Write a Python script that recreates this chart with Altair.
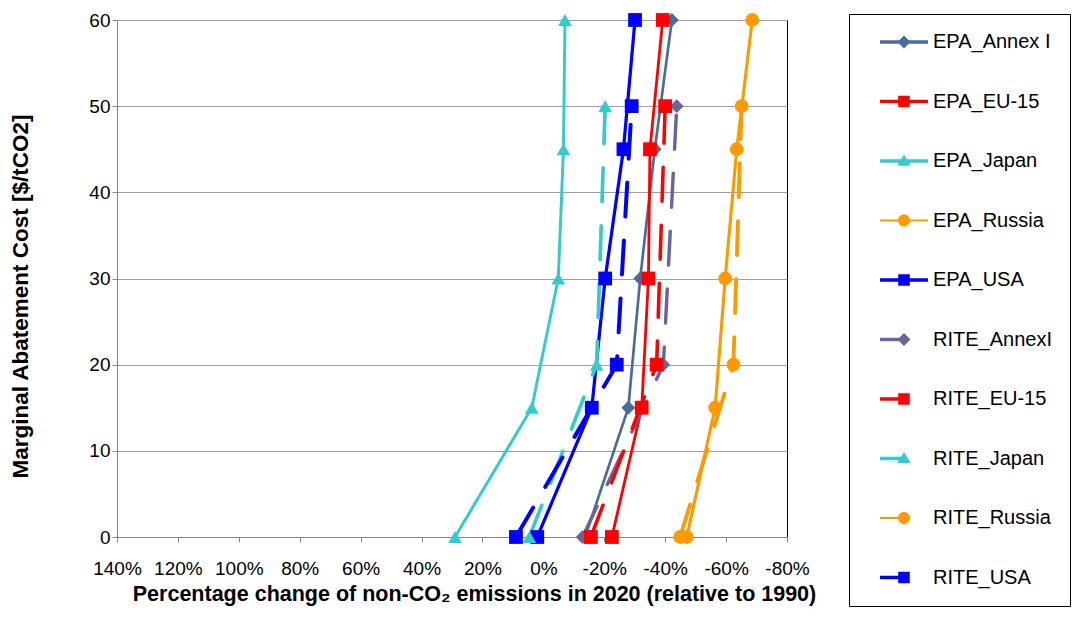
import altair as alt
import pandas as pd

# ---------------- data ----------------
series = ["EPA_Annex I", "EPA_EU-15", "EPA_Japan", "EPA_Russia", "EPA_USA",
          "RITE_AnnexI", "RITE_EU-15", "RITE_Japan", "RITE_Russia", "RITE_USA"]

epa_cost = [0, 15, 30, 45, 60]
rite_cost = [0, 20, 50]

epa_annex1 = [-13.7, -27.9, -31.8, -36.6, -42.2]
epa_eu15 = [-22.5, -32.3, -34.5, -35.0, -39.2]
epa_japan = [29.0, 3.8, -4.9, -6.6, -7.1]
epa_russia = [-47.1, -56.4, -59.7, -63.5, -68.6]
epa_usa = [2.0, -15.9, -20.3, -26.3, -30.1]

rite_annex1 = [-12.9, -39.4, -43.8]
rite_eu15 = [-15.6, -37.2, -40.0]
rite_japan = [4.6, -17.5, -20.3]
rite_russia = [-44.9, -62.4, -65.1]
rite_usa = [9.0, -24.1, -29.0]

x_ticks = [140, 120, 100, 80, 60, 40, 20, 0, -20, -40, -60, -80]
y_ticks = [0, 10, 20, 30, 40, 50, 60]

values = {
    "EPA_Annex I": (epa_cost, epa_annex1),
    "EPA_EU-15": (epa_cost, epa_eu15),
    "EPA_Japan": (epa_cost, epa_japan),
    "EPA_Russia": (epa_cost, epa_russia),
    "EPA_USA": (epa_cost, epa_usa),
    "RITE_AnnexI": (rite_cost, rite_annex1),
    "RITE_EU-15": (rite_cost, rite_eu15),
    "RITE_Japan": (rite_cost, rite_japan),
    "RITE_Russia": (rite_cost, rite_russia),
    "RITE_USA": (rite_cost, rite_usa),
}

rows = []
for s in series:
    costs, pcts = values[s]
    for c, p in zip(costs, pcts):
        rows.append({"series": s, "cost": c, "pct": p})
df = pd.DataFrame(rows)

# ---------------- styles ----------------
colors = ["#4A6C9B", "#FF0000", "#33CCCC", "#FF9900", "#0000FF",
          "#66669A", "#FF0000", "#33CCCC", "#FF9900", "#0000FF"]
shapes = ["diamond", "square", "triangle-up", "circle", "square",
          "diamond", "square", "triangle-up", "circle", "square"]
sizes_w = [2.7, 4, 3.5, 2, 4.5, 4, 4, 4, 4, 4]
dashes = [[1, 0]] * 5 + [[34, 24]] * 5

marker_paths = {
    "diamond": "M-0.27,0 L0,-0.27 L0.27,0 L0,0.27 Z",
    "square": "M-0.24,-0.24 L0.24,-0.24 L0.24,0.24 L-0.24,0.24 Z",
    "triangle-up": "M0,-0.27 L0.28,0.2 L-0.28,0.2 Z",
    "circle": "M-0.25,0 A0.25,0.25 0 1,1 0.25,0 A0.25,0.25 0 1,1 -0.25,0 Z",
}
legend_paths = []
for i, s in enumerate(series):
    hw = 0.045 if "Russia" in s else 0.07
    x_end = 1 if s.startswith("EPA") else 0.1
    line = f"M-1,-{hw} L{x_end},-{hw} L{x_end},{hw} L-1,{hw} Z"
    legend_paths.append(line + " " + marker_paths[shapes[i]])

font = "Liberation Sans"

x_enc = alt.X("pct:Q",
              scale=alt.Scale(domain=[-80, 140], reverse=True, nice=False, zero=False),
              axis=alt.Axis(values=x_ticks, labelExpr="datum.value + '%'", grid=False,
                            labelOverlap=False, labelFlush=False, labelFontSize=19,
                            title="Percentage change of non-CO\u2082 emissions in 2020 (relative to 1990)",
                            titleFontSize=21.5,
                            titleX=357, titleY=57, titleBaseline="middle", titleAlign="center",
                            tickSize=5, labelPadding=17))
y_enc = alt.Y("cost:Q",
              scale=alt.Scale(domain=[0, 60], nice=False),
              axis=alt.Axis(values=y_ticks, grid=True, title="Marginal Abatement Cost [$/tCO2]",
                            titleFontSize=22.5,
                            titleX=-97, titleY=276, titleBaseline="middle", titleAlign="center",
                            titleAngle=-90, tickSize=5, labelPadding=2))

lines = alt.Chart(df).mark_line(strokeCap="round", strokeJoin="round").encode(
    x=x_enc, y=y_enc,
    order=alt.Order("cost:Q"),
    color=alt.Color("series:N", scale=alt.Scale(domain=series, range=colors), legend=None),
    strokeDash=alt.StrokeDash("series:N", scale=alt.Scale(domain=series, range=dashes), legend=None),
    strokeWidth=alt.StrokeWidth("series:N", scale=alt.Scale(domain=series, range=sizes_w), legend=None),
)

points = alt.Chart(df).mark_point(filled=True, opacity=1, size=190).encode(
    x=x_enc, y=y_enc,
    color=alt.Color("series:N", scale=alt.Scale(domain=series, range=colors), legend=None),
    shape=alt.Shape("series:N", scale=alt.Scale(domain=series, range=shapes), legend=None),
)

leg = alt.Legend(title=None, orient="none", legendX=732, legendY=-6,
                 strokeColor="#000000", padding=18, rowPadding=39.5, clipHeight=20,
                 symbolOffset=13, labelOffset=5, symbolSize=2304, symbolStrokeWidth=0,
                 symbolOpacity=1, labelFont=font, labelFontSize=20, labelColor="#000000",
                 labelLimit=300)

legend_layer = alt.Chart(df).transform_filter("false").mark_point(
    filled=True, opacity=1, size=2304).encode(
    x="pct:Q", y="cost:Q",
    color=alt.Color("series:N", scale=alt.Scale(domain=series, range=colors), legend=leg),
    shape=alt.Shape("series:N", scale=alt.Scale(domain=series, range=legend_paths), legend=leg),
)

chart = alt.layer(lines, points, legend_layer).resolve_scale(
    color="independent", shape="independent"
).properties(
    width=670, height=517,
    autosize=alt.AutoSizeParams(type="none"),
    padding={"left": 109, "top": 12, "right": 288, "bottom": 72},
).configure_view(
    stroke="#000000", strokeWidth=1
).configure_axis(
    labelFont=font, labelFontSize=19, labelColor="#000000",
    titleFont=font, titleFontSize=20, titleFontWeight="bold", titleColor="#000000",
    domainColor="#868686", tickColor="#868686", gridColor="#A0A0A0", gridWidth=1.2,
)

chart.save("out.html", embed_options={"renderer": "svg", "actions": False})
